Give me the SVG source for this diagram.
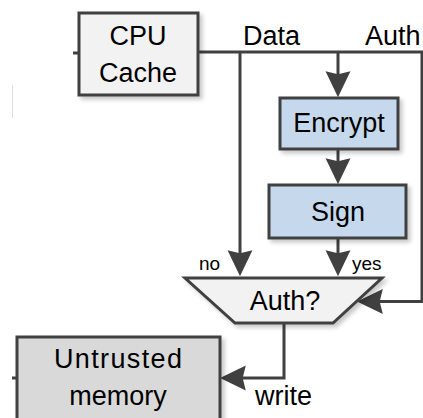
<svg xmlns="http://www.w3.org/2000/svg" width="423" height="418" viewBox="0 0 423 418">
<defs>
<style>
.box{stroke:#404040;stroke-width:3}
.w{fill:#f2f2f2}
.b{fill:#c6d9ec}
.g{fill:#d9d9d9}
.wire{fill:none;stroke:#404040;stroke-width:3}
.lbl{font-family:"Liberation Sans",Arial,sans-serif;font-size:27px;fill:#000;text-anchor:middle}
.tag{font-family:"Liberation Sans",Arial,sans-serif;font-size:27px;fill:#000}
.sm{font-family:"Liberation Sans",Arial,sans-serif;font-size:19px;fill:#000}
</style>
<filter id="sh" x="-10%" y="-10%" width="130%" height="130%">
<feDropShadow dx="3" dy="3" stdDeviation="2" flood-color="#000" flood-opacity="0.22"/>
</filter>
<marker id="ah" markerUnits="userSpaceOnUse" markerWidth="26" markerHeight="26" viewBox="0 0 25 24" refX="20" refY="12" orient="auto">
<path d="M0,0 L25,12 L0,24 L3,12 Z" fill="#404040"/>
</marker>
</defs>
<line x1="12.5" y1="85" x2="12.5" y2="118" stroke="#dddddd" stroke-width="1"/>
<g id="connectors">
<path class="wire" d="M73,53 H79"/>
<path class="wire" d="M12,378 H17"/>
<path class="wire" d="M198,52 H423"/>
<path class="wire" d="M240,52 V271" marker-end="url(#ah)"/>
<path class="wire" d="M338,52 V92" marker-end="url(#ah)"/>
<path class="wire" d="M338,149 V179" marker-end="url(#ah)"/>
<path class="wire" d="M338,238 V271" marker-end="url(#ah)"/>
<path class="wire" d="M422,52 V301.5 H362" marker-end="url(#ah)"/>
<path class="wire" d="M284,323 V378 H225" marker-end="url(#ah)"/>
</g>
<g id="cpu-cache">
<rect class="box w" x="79" y="13" width="119" height="82" filter="url(#sh)"/>
<text class="lbl" x="138" y="45">CPU</text>
<text class="lbl" x="138" y="82">Cache</text>
</g>
<g id="encrypt">
<rect class="box b" x="280" y="98" width="118" height="51" filter="url(#sh)"/>
<text class="lbl" x="339" y="132">Encrypt</text>
</g>
<g id="sign">
<rect class="box b" x="269" y="185" width="137" height="53" filter="url(#sh)"/>
<text class="lbl" x="338" y="221">Sign</text>
</g>
<g id="auth-check">
<polygon class="box w" points="185,278 382,278 333,323 235,323" filter="url(#sh)"/>
<text class="lbl" x="285" y="310">Auth?</text>
</g>
<g id="untrusted-memory">
<rect class="box g" x="17" y="337" width="203" height="100" filter="url(#sh)"/>
<text class="lbl" x="118" y="368" textLength="128">Untrusted</text>
<text class="lbl" x="118" y="405">memory</text>
</g>
<g id="labels">
<text class="tag" x="243" y="45">Data</text>
<text class="tag" x="365" y="45">Auth</text>
<text class="tag" x="255" y="405" font-size="28">write</text>
<text class="sm" x="199" y="270">no</text>
<text class="sm" x="352" y="270">yes</text>
</g>
</svg>
